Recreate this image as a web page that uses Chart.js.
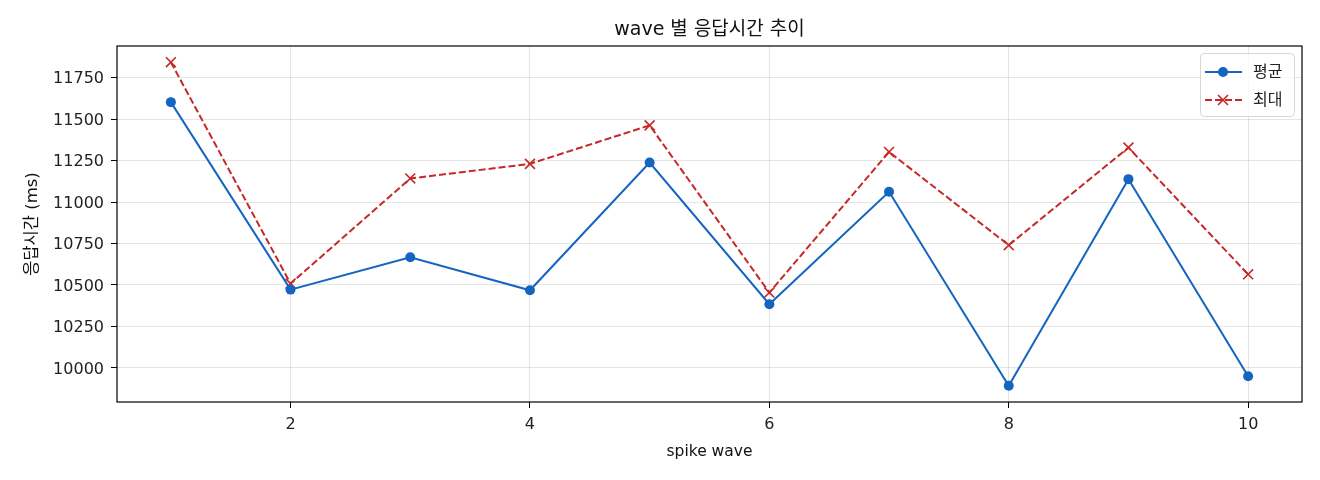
<!DOCTYPE html>
<html>
<head>
<meta charset="utf-8">
<title>wave 별 응답시간 추이</title>
<script src="https://cdn.jsdelivr.net/npm/chart.js@4/dist/chart.umd.min.js"></script>
<style>
  html, body { margin: 0; padding: 0; background: #fff; }
  canvas { display: block; }
</style>
</head>
<body>
<canvas id="waveChart" width="1320" height="480"></canvas>
<script>
// data
const waves = [1, 2, 3, 4, 5, 6, 7, 8, 9, 10];
const avgMs = [11602, 10472, 10667, 10468, 11238, 10384, 11062, 9892, 11138, 9950];
const maxMs = [11843, 10508, 11142, 11230, 11462, 10454, 11302, 10740, 11328, 10564];
const xTicks = [2, 4, 6, 8, 10];
const yTicks = [10000, 10250, 10500, 10750, 11000, 11250, 11500, 11750];

const FONT = "'DejaVu Sans', 'Noto Sans CJK KR', sans-serif";
const BLUE = '#1565c0';
const RED = '#c62828';

function toPoints(values) {
    return waves.map((w, i) => ({ x: w, y: values[i] }));
}

// titles, frame and legend drawn on top of the chart
const decorations = {
    id: 'decorations',
    afterDatasetsDraw(chart) {
        const ctx = chart.ctx;
        const a = chart.chartArea;
        ctx.save();

        // frame
        ctx.strokeStyle = '#000';
        ctx.lineWidth = 1.2;
        ctx.strokeRect(a.left, a.top, a.right - a.left, a.bottom - a.top);

        // legend
        const lx = 1200, ly = 53, lw = 94, lh = 63;
        ctx.fillStyle = 'rgba(255,255,255,0.8)';
        ctx.strokeStyle = '#d6d6d6';
        ctx.lineWidth = 1;
        ctx.beginPath();
        ctx.roundRect(lx + 0.5, ly + 0.5, lw, lh, 4);
        ctx.fill();
        ctx.stroke();

        const rows = [
            { label: '평균', color: BLUE, dash: [], marker: 'circle', y: 72 },
            { label: '최대', color: RED, dash: [7, 3], marker: 'cross', y: 100 }
        ];
        rows.forEach(r => {
            ctx.strokeStyle = r.color;
            ctx.lineWidth = 2;
            ctx.setLineDash(r.dash);
            ctx.beginPath();
            ctx.moveTo(1205, r.y);
            ctx.lineTo(1242, r.y);
            ctx.stroke();
            ctx.setLineDash([]);
            if (r.marker === 'circle') {
                ctx.fillStyle = r.color;
                ctx.beginPath();
                ctx.arc(1223, r.y, 5, 0, Math.PI * 2);
                ctx.fill();
            } else {
                ctx.lineWidth = 1.6;
                ctx.beginPath();
                ctx.moveTo(1218, r.y - 5); ctx.lineTo(1228, r.y + 5);
                ctx.moveTo(1228, r.y - 5); ctx.lineTo(1218, r.y + 5);
                ctx.stroke();
            }
            ctx.fillStyle = '#222';
            ctx.font = '16px ' + FONT;
            ctx.textAlign = 'left';
            ctx.textBaseline = 'middle';
            ctx.fillText(r.label, 1253, r.y + 1);
        });

        // chart title
        const cx = (a.left + a.right) / 2;
        ctx.fillStyle = '#111';
        ctx.textAlign = 'center';
        ctx.textBaseline = 'middle';
        ctx.font = '19px ' + FONT;
        ctx.fillText('wave 별 응답시간 추이', cx, 30);

        // axis titles
        ctx.font = '15.5px ' + FONT;
        ctx.fillText('spike wave', cx, 452);
        ctx.font = '16.5px ' + FONT;
        ctx.translate(33, (a.top + a.bottom) / 2);
        ctx.rotate(-Math.PI / 2);
        ctx.fillText('응답시간 (ms)', 0, 0);

        ctx.restore();
    }
};

new Chart(document.getElementById('waveChart').getContext('2d'), {
    type: 'line',
    data: {
        datasets: [
            {
                label: '평균',
                data: toPoints(avgMs),
                borderColor: BLUE,
                backgroundColor: BLUE,
                borderWidth: 2,
                pointStyle: 'circle',
                pointRadius: 5,
                pointBorderWidth: 0,
                tension: 0
            },
            {
                label: '최대',
                data: toPoints(maxMs),
                borderColor: RED,
                backgroundColor: RED,
                borderWidth: 2,
                borderDash: [7, 3],
                pointStyle: 'crossRot',
                pointRadius: 7,
                pointBorderWidth: 1.6,
                tension: 0
            }
        ]
    },
    options: {
        responsive: false,
        animation: false,
        devicePixelRatio: 1,
        layout: { padding: { left: 0, top: 46, right: 18, bottom: 0 } },
        plugins: {
            legend: { display: false },
            title: { display: false },
            tooltip: { enabled: false }
        },
        scales: {
            x: {
                type: 'linear',
                min: 0.55,
                max: 10.45,
                afterBuildTicks: s => { s.ticks = xTicks.map(v => ({ value: v })); },
                afterFit: s => { s.height = 78; },
                border: { display: false },
                grid: { color: 'rgba(0,0,0,0.1)', tickColor: '#000', tickLength: 6, lineWidth: 1 },
                ticks: { color: '#222', padding: 7, maxRotation: 0, font: { family: FONT, size: 16 } }
            },
            y: {
                min: 9794.5,
                max: 11940.5,
                afterBuildTicks: s => { s.ticks = yTicks.map(v => ({ value: v })); },
                afterFit: s => { s.width = 117; },
                border: { display: false },
                grid: { color: 'rgba(0,0,0,0.1)', tickColor: '#000', tickLength: 6, lineWidth: 1 },
                ticks: {
                    color: '#222',
                    padding: 7,
                    labelOffset: 1.5,
                    font: { family: FONT, size: 16 },
                    callback: v => String(v)
                }
            }
        }
    },
    plugins: [decorations]
});
</script>
</body>
</html>
